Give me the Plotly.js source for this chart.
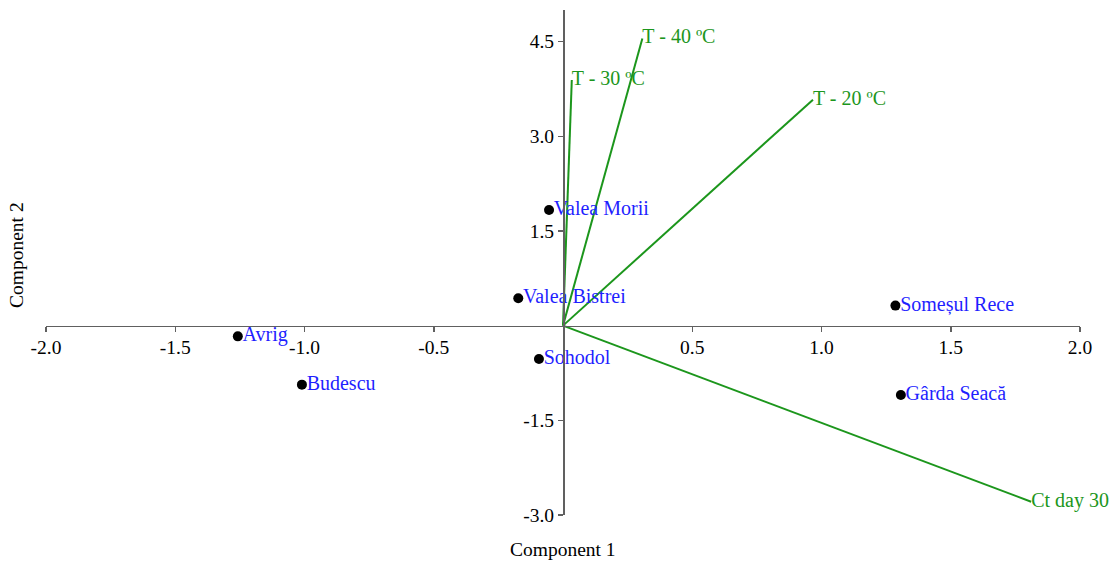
<!DOCTYPE html>
<html>
<head>
<meta charset="utf-8">
<script src="https://cdn.plot.ly/plotly-3.0.1.min.js"></script>
<style>html,body{margin:0;padding:0;background:#fff;}#chart{width:1115px;height:561px;}</style>
</head>
<body>
<div id="chart"></div>
<script>
// Sample scores
const siteNames = ["Avrig", "Budescu", "Valea Morii", "Valea Bistrei", "Sohodol", "Someșul Rece", "Gârda Seacă"];
const siteX = [-1.258, -1.010, -0.054, -0.173, -0.093, 1.286, 1.307];
const siteY = [-0.17, -0.935, 1.833, 0.433, -0.528, 0.317, -1.098];

// Variable loadings (vectors from origin)
const loadingNames = ["T - 20 ºC", "T - 30 ºC", "T - 40 ºC", "Ct day 30"];
const loadingX = [0.967, 0.034, 0.307, 1.811];
const loadingY = [3.58, 3.89, 4.55, -2.79];

// Tick labels
const xTickVals = [-2, -1.5, -1, -0.5, 0.5, 1, 1.5, 2];
const xTickText = ["-2.0", "-1.5", "-1.0", "-0.5", "0.5", "1.0", "1.5", "2.0"];
const yTickVals = [-3, -1.5, 1.5, 3, 4.5];
const yTickText = ["-3.0", "-1.5", "1.5", "3.0", "4.5"];

const FONT = "Liberation Serif, Times New Roman, serif";
const GREEN = "rgb(28,150,28)";
const BLUE = "#1f1fff";
const AXIS = "#606060";

const lx = [], ly = [];
loadingX.forEach((v, i) => { lx.push(0, v, null); ly.push(0, loadingY[i], null); });

const traces = [
  {
    type: "scatter", mode: "lines", x: lx, y: ly,
    line: {color: GREEN, width: 2}, hoverinfo: "skip", cliponaxis: false
  },
  {
    type: "scatter", mode: "text", x: loadingX, y: loadingY, text: loadingNames,
    textposition: "middle right", textfont: {family: FONT, size: 20, color: GREEN},
    cliponaxis: false
  },
  {
    type: "scatter", mode: "markers", x: siteX, y: siteY,
    marker: {color: "#000", size: 10},
    cliponaxis: false
  },
  {
    type: "scatter", mode: "markers+text", x: siteX, y: siteY, text: siteNames,
    textposition: "middle right",
    marker: {color: "rgba(0,0,0,0)", size: 6},
    textfont: {family: FONT, size: 20, color: BLUE},
    cliponaxis: false
  }
];

const layout = {
  width: 1115, height: 561,
  margin: {l: 46, r: 35, t: 10, b: 46},
  paper_bgcolor: "#fff", plot_bgcolor: "#fff",
  showlegend: false,
  font: {family: FONT, size: 19.5, color: "#000"},
  xaxis: {
    range: [-2, 2], anchor: "free", position: 0.375,
    showgrid: false, zeroline: false, showline: true, linecolor: AXIS, linewidth: 1.5,
    ticks: "outside", ticklen: 5, tickcolor: AXIS, tickwidth: 1.5,
    tickvals: xTickVals, ticktext: xTickText, ticklabelstandoff: -2,
    tickfont: {family: FONT, size: 19.5, color: "#000"}
  },
  yaxis: {
    range: [-3, 5], anchor: "free", position: 0.5,
    showgrid: false, zeroline: false, showline: true, linecolor: AXIS, linewidth: 1.5,
    ticks: "outside", ticklen: 5, tickcolor: AXIS, tickwidth: 1.5,
    tickvals: yTickVals, ticktext: yTickText,
    tickfont: {family: FONT, size: 19.5, color: "#000"}
  },
  annotations: [
    {text: "Component 1", xref: "paper", yref: "paper", x: 0.5, y: -0.069,
     xanchor: "center", yanchor: "middle", showarrow: false,
     font: {family: FONT, size: 19.5, color: "#000"}},
    {text: "Component 2", xref: "paper", yref: "paper", x: -0.028, y: 0.515,
     xanchor: "center", yanchor: "middle", textangle: -90, showarrow: false,
     font: {family: FONT, size: 19.5, color: "#000"}}
  ]
};

Plotly.newPlot("chart", traces, layout, {displayModeBar: false, staticPlot: true});
</script>
</body>
</html>
